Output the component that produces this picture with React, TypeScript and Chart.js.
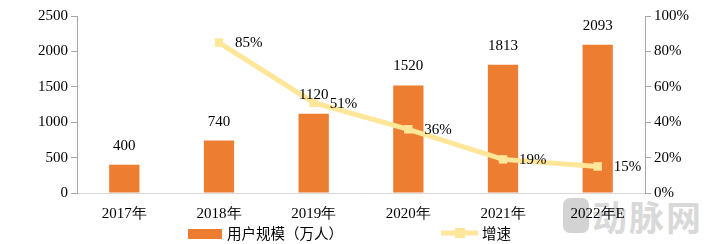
import React, { useEffect, useRef } from "react";
import { Chart, registerables } from "chart.js";

Chart.register(...registerables);

const categories = ["2017年", "2018年", "2019年", "2020年", "2021年", "2022年E"];
const users = [400, 740, 1120, 1520, 1813, 2093];
const growth = [null, 85, 51, 36, 19, 15];
const leftTicks = [0, 500, 1000, 1500, 2000, 2500];
const rightTicks = [0, 20, 40, 60, 80, 100];
const seriesNames = ["用户规模（万人）", "增速"];
const watermark = "动脉网";

const BAR = "#ED7D31";
const LINE = "#FFE699";
const SERIF = "'Liberation Serif'";
const CJK = "'Noto Sans CJK SC'";

export default function App() {
  const ref = useRef<HTMLCanvasElement | null>(null);

  useEffect(() => {
    document.body.style.margin = "0";
    const canvas = ref.current!;
    const labelsPlugin = {
      id: "labels",
      afterDatasetsDraw(chart: any) {
        const ctx = chart.ctx;
        ctx.save();
        ctx.fillStyle = "#000";
        ctx.font = `15px ${SERIF}`;
        ctx.textBaseline = "middle";
        const barMeta = chart.getDatasetMeta(0);
        ctx.textAlign = "center";
        barMeta.data.forEach((el: any, i: number) => {
          ctx.fillText(String(users[i]), el.x, el.y - 19);
        });
        const lineMeta = chart.getDatasetMeta(1);
        ctx.textAlign = "left";
        lineMeta.data.forEach((el: any, i: number) => {
          const v = growth[i];
          if (v == null) return;
          ctx.fillText(v + "%", el.x + 16, el.y + 1);
        });
        ctx.restore();
      },
      afterDraw(chart: any) {
        const ctx = chart.ctx;
        ctx.save();
        ctx.fillStyle = BAR;
        ctx.fillRect(188, 229, 34, 10);
        ctx.fillStyle = "#000";
        ctx.font = `14.5px ${CJK}`;
        ctx.textBaseline = "middle";
        ctx.textAlign = "left";
        ctx.fillText(seriesNames[0], 227, 233);
        ctx.strokeStyle = LINE;
        ctx.lineWidth = 5;
        ctx.beginPath();
        ctx.moveTo(441, 233);
        ctx.lineTo(478, 233);
        ctx.stroke();
        ctx.fillStyle = LINE;
        ctx.fillRect(455, 228, 10, 10);
        ctx.fillStyle = "#000";
        ctx.fillText(seriesNames[1], 482, 233);
        ctx.restore();
      },
    };

    const chart = new Chart(canvas, {
      type: "bar",
      data: {
        labels: categories,
        datasets: [
          {
            type: "bar",
            label: seriesNames[0],
            data: users,
            backgroundColor: BAR,
            yAxisID: "y",
            categoryPercentage: 1,
            barPercentage: 0.32,
            order: 2,
          },
          {
            type: "line",
            label: seriesNames[1],
            data: growth as any,
            borderColor: LINE,
            backgroundColor: LINE,
            borderWidth: 5,
            pointStyle: "rect",
            pointRadius: 6,
            pointBackgroundColor: LINE,
            pointBorderWidth: 0,
            yAxisID: "y1",
            tension: 0,
            order: 1,
          } as any,
        ],
      },
      options: {
        animation: false,
        responsive: false,
        maintainAspectRatio: false,
        layout: { padding: { top: 16, bottom: 0, left: 0, right: 0 } },
        plugins: { legend: { display: false }, tooltip: { enabled: false } },
        scales: {
          x: {
            grid: { display: false },
            border: { display: true, color: "#D9D9D9", width: 1 },
            ticks: {
              font: { family: SERIF, size: 15 },
              color: "#000",
              padding: 4,
              maxRotation: 0,
            },
            afterFit(s: any) {
              s.height = 51;
            },
          },
          y: {
            position: "left",
            min: 0,
            max: 2500,
            afterBuildTicks(s: any) {
              s.ticks = leftTicks.map((v) => ({ value: v }));
            },
            grid: { drawOnChartArea: false, drawTicks: true, tickLength: 6, color: "#A6A6A6" },
            border: { display: true, color: "#A6A6A6", width: 1 },
            ticks: {
              font: { family: SERIF, size: 15 },
              color: "#000",
              padding: 3,
              callback: (v: any) => String(v),
            },
            afterFit(s: any) {
              s.width = 77;
            },
          },
          y1: {
            position: "right",
            min: 0,
            max: 100,
            afterBuildTicks(s: any) {
              s.ticks = rightTicks.map((v) => ({ value: v }));
            },
            grid: { drawOnChartArea: false, drawTicks: true, tickLength: 6, color: "#A6A6A6" },
            border: { display: true, color: "#A6A6A6", width: 1 },
            ticks: {
              font: { family: SERIF, size: 15 },
              color: "#000",
              padding: 3,
              callback: (v: any) => v + "%",
            },
            afterFit(s: any) {
              s.width = 71;
            },
          },
        },
      },
      plugins: [labelsPlugin],
    });
    return () => chart.destroy();
  }, []);

  return (
    <div style={{ position: "relative", width: 716, height: 244 }}>
      <div
        style={{
          position: "absolute",
          left: 563,
          top: 198,
          width: 26,
          height: 35,
          borderRadius: 7,
          background: "#D3D3D3",
        }}
      />
      <div
        style={{
          position: "absolute",
          left: 592,
          top: 197,
          fontFamily: CJK,
          fontWeight: 700,
          fontSize: 35,
          lineHeight: "38px",
          color: "#D9D9D9",
          letterSpacing: 2,
          whiteSpace: "nowrap",
        }}
      >
        {watermark}
      </div>
      <canvas
        ref={ref}
        width={716}
        height={244}
        style={{ display: "block", position: "absolute", left: 0, top: 0 }}
      />
    </div>
  );
}
